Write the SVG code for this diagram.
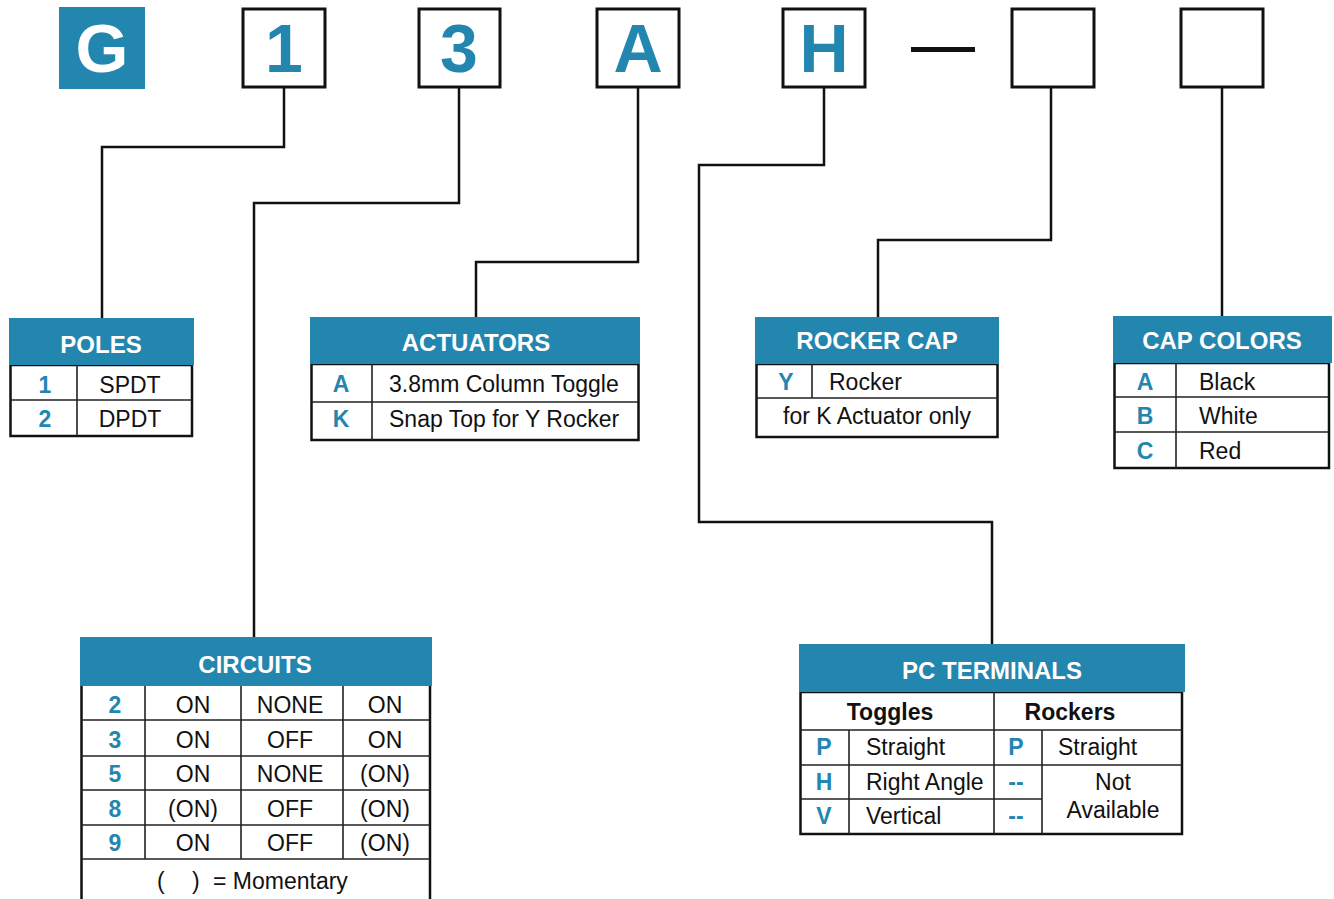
<svg xmlns="http://www.w3.org/2000/svg" width="1334" height="899" viewBox="0 0 1334 899">
<style>
.big{font-family:"Liberation Sans",Arial,sans-serif;font-weight:bold;font-size:68px;fill:#2386ae;text-anchor:middle}
.box{fill:#fff;stroke:#111;stroke-width:3}
.hdr{fill:#2386ae}
.ht{font-family:"Liberation Sans",Arial,sans-serif;font-weight:bold;font-size:24px;fill:#fff;text-anchor:middle}
.body{fill:#fff;stroke:#111;stroke-width:2.5}
.ln{stroke:#222;stroke-width:1.6;fill:none}
.k{font-family:"Liberation Sans",Arial,sans-serif;font-weight:bold;font-size:23px;fill:#2386ae;text-anchor:middle}
.t{font-family:"Liberation Sans",Arial,sans-serif;font-size:23px;fill:#111}
.c{text-anchor:middle}
.b{font-weight:bold}
.conn{fill:none;stroke:#111;stroke-width:2.5}
</style>
<g id="code">
<rect x="59" y="7" width="86" height="82" fill="#2386ae"/>
<text x="102" y="72" class="big" style="fill:#fff">G</text>
<rect class="box" x="243" y="9" width="82" height="78"/>
<text x="284" y="72" class="big">1</text>
<rect class="box" x="419" y="9" width="81" height="78"/>
<text x="459" y="72" class="big">3</text>
<rect class="box" x="597" y="9" width="82" height="78"/>
<text x="638" y="72" class="big">A</text>
<rect class="box" x="783" y="9" width="82" height="78"/>
<text x="824" y="72" class="big">H</text>
<rect x="911" y="47" width="64" height="5" fill="#111"/>
<rect class="box" x="1012" y="9" width="82" height="78"/>
<rect class="box" x="1181" y="9" width="82" height="78"/>
</g>
<g id="connectors">
<polyline class="conn" points="284,88 284,147 102,147 102,319"/>
<polyline class="conn" points="459,88 459,203 254,203 254,638"/>
<polyline class="conn" points="638,88 638,262 476,262 476,318"/>
<polyline class="conn" points="824,88 824,165 699,165 699,522 992,522 992,645"/>
<polyline class="conn" points="1051,88 1051,240 878,240 878,318"/>
<polyline class="conn" points="1222,88 1222,318"/>
</g>
<g id="poles">
<rect class="body" x="10.5" y="365" width="181.5" height="71"/>
<rect class="hdr" x="9" y="318" width="185" height="47"/>
<text x="101" y="353" class="ht">POLES</text>
<line class="ln" x1="10" y1="400" x2="192" y2="400"/>
<line class="ln" x1="77" y1="365" x2="77" y2="436"/>
<text x="45" y="393" class="k">1</text>
<text x="130" y="393" class="t c">SPDT</text>
<text x="45" y="427" class="k">2</text>
<text x="130" y="427" class="t c">DPDT</text>
</g>
<g id="actuators">
<rect class="body" x="311.5" y="364" width="327" height="76"/>
<rect class="hdr" x="310" y="317" width="330" height="47"/>
<text x="476" y="351" class="ht">ACTUATORS</text>
<line class="ln" x1="311" y1="402" x2="638" y2="402"/>
<line class="ln" x1="372" y1="364" x2="372" y2="440"/>
<text x="341" y="392" class="k">A</text>
<text x="389" y="392" class="t">3.8mm Column Toggle</text>
<text x="341" y="427" class="k">K</text>
<text x="389" y="427" class="t">Snap Top for Y Rocker</text>
</g>
<g id="rocker-cap">
<rect class="body" x="756.5" y="364" width="241" height="73"/>
<rect class="hdr" x="755" y="317" width="244" height="47"/>
<text x="877" y="349" class="ht">ROCKER CAP</text>
<line class="ln" x1="756" y1="398" x2="998" y2="398"/>
<line class="ln" x1="812" y1="364" x2="812" y2="398"/>
<text x="786" y="390" class="k">Y</text>
<text x="829" y="390" class="t">Rocker</text>
<text x="877" y="424" class="t c">for K Actuator only</text>
</g>
<g id="cap-colors">
<rect class="body" x="1114.5" y="363" width="214.5" height="105"/>
<rect class="hdr" x="1113" y="316" width="219" height="47"/>
<text x="1222" y="349" class="ht">CAP COLORS</text>
<line class="ln" x1="1114" y1="397" x2="1329" y2="397"/>
<line class="ln" x1="1114" y1="432" x2="1329" y2="432"/>
<line class="ln" x1="1176" y1="363" x2="1176" y2="468"/>
<text x="1145" y="390" class="k">A</text>
<text x="1199" y="390" class="t">Black</text>
<text x="1145" y="424" class="k">B</text>
<text x="1199" y="424" class="t">White</text>
<text x="1145" y="459" class="k">C</text>
<text x="1199" y="459" class="t">Red</text>
</g>
<g id="circuits">
<line class="body" x1="81.5" y1="686" x2="81.5" y2="899"/>
<line class="body" x1="430" y1="686" x2="430" y2="899"/>
<rect class="hdr" x="80" y="637" width="352" height="49"/>
<text x="255" y="673" class="ht">CIRCUITS</text>
<line class="ln" x1="81" y1="720" x2="430" y2="720"/>
<line class="ln" x1="81" y1="756" x2="430" y2="756"/>
<line class="ln" x1="81" y1="790" x2="430" y2="790"/>
<line class="ln" x1="81" y1="825" x2="430" y2="825"/>
<line class="ln" x1="81" y1="859" x2="430" y2="859"/>
<line class="ln" x1="145" y1="686" x2="145" y2="859"/>
<line class="ln" x1="241" y1="686" x2="241" y2="859"/>
<line class="ln" x1="343" y1="686" x2="343" y2="859"/>
<text x="115" y="713" class="k">2</text>
<text x="193" y="713" class="t c">ON</text>
<text x="290" y="713" class="t c">NONE</text>
<text x="385" y="713" class="t c">ON</text>
<text x="115" y="748" class="k">3</text>
<text x="193" y="748" class="t c">ON</text>
<text x="290" y="748" class="t c">OFF</text>
<text x="385" y="748" class="t c">ON</text>
<text x="115" y="782" class="k">5</text>
<text x="193" y="782" class="t c">ON</text>
<text x="290" y="782" class="t c">NONE</text>
<text x="385" y="782" class="t c">(ON)</text>
<text x="115" y="817" class="k">8</text>
<text x="193" y="817" class="t c">(ON)</text>
<text x="290" y="817" class="t c">OFF</text>
<text x="385" y="817" class="t c">(ON)</text>
<text x="115" y="851" class="k">9</text>
<text x="193" y="851" class="t c">ON</text>
<text x="290" y="851" class="t c">OFF</text>
<text x="385" y="851" class="t c">(ON)</text>
<text x="157" y="889" class="t">(</text>
<text x="192" y="889" class="t">)</text>
<text x="213" y="889" class="t">= Momentary</text>
</g>
<g id="pc-terminals">
<rect class="body" x="800.5" y="692" width="381.5" height="142"/>
<rect class="hdr" x="799" y="644" width="386" height="48"/>
<text x="992" y="679" class="ht">PC TERMINALS</text>
<line class="ln" x1="800" y1="730" x2="1182" y2="730"/>
<line class="ln" x1="800" y1="765" x2="1182" y2="765"/>
<line class="ln" x1="800" y1="799" x2="1042" y2="799"/>
<line class="ln" x1="994" y1="692" x2="994" y2="834"/>
<line class="ln" x1="849" y1="730" x2="849" y2="834"/>
<line class="ln" x1="1042" y1="730" x2="1042" y2="834"/>
<text x="890" y="720" class="t c b">Toggles</text>
<text x="1070" y="720" class="t c b">Rockers</text>
<text x="824" y="755" class="k">P</text>
<text x="866" y="755" class="t">Straight</text>
<text x="1016" y="755" class="k">P</text>
<text x="1058" y="755" class="t">Straight</text>
<text x="824" y="790" class="k">H</text>
<text x="866" y="790" class="t">Right Angle</text>
<text x="1016" y="790" class="k">--</text>
<text x="824" y="824" class="k">V</text>
<text x="866" y="824" class="t">Vertical</text>
<text x="1016" y="824" class="k">--</text>
<text x="1113" y="790" class="t c">Not</text>
<text x="1113" y="818" class="t c">Available</text>
</g>
</svg>
